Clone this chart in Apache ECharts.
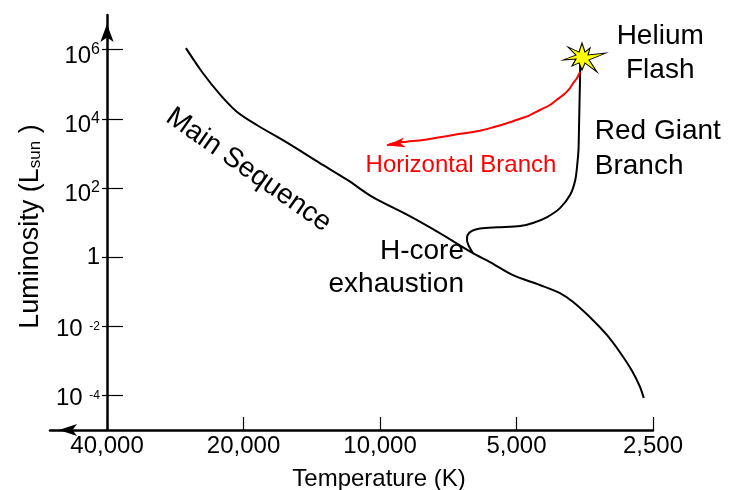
<!DOCTYPE html>
<html><head><meta charset="utf-8">
<script src="https://cdn.jsdelivr.net/npm/echarts@6/dist/echarts.min.js"></script>
<style>html,body{margin:0;padding:0;background:#fff}#c{width:731px;height:490px}</style>
</head><body><div id="c"></div>
<script>
const FONT = '"Liberation Sans", Arial, Helvetica, sans-serif';

// Main sequence (temperature K, luminosity L_sun)
const msTemp = [26800, 24600, 22500, 20700, 18700, 16000, 13600, 11800, 10400, 8700, 7400, 6240, 5720, 5090, 4440, 4010, 3750, 3390, 3160, 2960, 2780, 2670, 2620];
const msLum  = [1.1e6, 2.1e5, 4.9e4, 1.6e4, 6600, 2000, 530, 170, 55, 16.5, 5.0, 1.3, 0.72, 0.30, 0.156, 0.091, 0.050, 0.015, 0.0056, 0.0018, 5.1e-4, 1.75e-4, 8.4e-5];
// Red giant branch
const rgbTemp = [6240, 6430, 6410, 6270, 6020, 5520, 4910, 4600, 4280, 4010, 3810, 3710, 3670, 3650, 3640, 3630, 3620, 3620];
const rgbLum  = [1.31, 3.1, 4.35, 5.7, 6.7, 7.3, 7.9, 9.7, 14.4, 26, 62, 170, 530, 1250, 5800, 3.5e4, 2.25e5, 4.4e5];
// Horizontal branch
const hbTemp = [3620, 3680, 3750, 3840, 3940, 4080, 4220, 4440, 4670, 4950, 5250, 5630, 6020, 6890, 8030, 8730, 9350, 9650];
const hbLum  = [2.25e5, 1.48e5, 1.06e5, 6.8e4, 4.9e4, 3.5e4, 2.5e4, 1.79e4, 1.28e4, 9640, 7390, 5660, 4520, 3390, 2430, 2170, 1950, 1690];
// Helium flash
const flashTemp = [3540];
const flashLum  = [5.9e5];

// Axis ranges and ticks
const tempRange = [2500, 53450];
const lumRange  = [1e-5, 1e7];
const xTickValues = [40000, 20000, 10000, 5000, 2500];
const xTickLabels = ['40,000', '20,000', '10,000', '5,000', '2,500'];
const yTickValues = [1e-4, 1e-2, 1, 1e2, 1e4, 1e6];
const yTickBase   = ['10', '10', '1', '10', '10', '10'];
const yTickExp    = ['-4', '-2', '', '2', '4', '6'];
const xName = 'Temperature (K)';
const yNameMain = 'Luminosity (L';
const yNameSub = 'sun';

// Annotations
const annoText = ['Main Sequence', 'H-core\nexhaustion', 'Helium\nFlash', 'Red Giant\nBranch', 'Horizontal Branch'];
const annoTemp = [19500, 6530, 2410, 3360, 6630];
const annoLum  = [330, 0.483, 7.96e5, 1380, 460];

const lg = Math.log10;
const toXY = (ts, ls) => ts.map((t, i) => [lg(t), lg(ls[i])]);
const matchIdx = (arr, v) => arr.findIndex(t => Math.abs(lg(t) - v) < 1e-6);

const annoStyles = [
  { position: 'inside', rotate: -35, fontSize: 28, color: '#000000' },
  { position: 'left', distance: 0, fontSize: 28, lineHeight: 33, color: '#000000' },
  { position: 'inside', fontSize: 28, lineHeight: 34, color: '#000000' },
  { position: 'right', distance: 0, fontSize: 28, lineHeight: 35, color: '#000000' },
  { position: 'inside', fontSize: 24, color: '#ff0000' }
];

const hbData = toXY(hbTemp, hbLum).map((p, i, a) => i === a.length - 1
  ? { value: p, symbol: 'arrow', symbolSize: [7.5, 18], symbolRotate: 100 }
  : { value: p, symbol: 'none' });

const starPath = 'path://M0,-15 L3,-6 L8,-10 L6,-3 L24,-5 L7,2 L15,14 L3,5 L0,12 L-3,5 L-10,8 L-6,1 L-19,2 L-6,-3 L-14,-11 L-3,-6 Z';

const tickCustomY = yTickValues.map(v => lg(v));
const tickCustomX = xTickValues.map(v => lg(v));

const chart = echarts.init(document.getElementById('c'), null, { renderer: 'canvas' });
chart.setOption({
  animation: false,
  backgroundColor: '#ffffff',
  textStyle: { fontFamily: FONT, color: '#000000' },
  grid: { left: 50, right: 78, top: 15, bottom: 60, containLabel: false, outerBoundsMode: 'none' },
  xAxis: {
    type: 'value', inverse: true,
    min: lg(tempRange[0]), max: lg(tempRange[1]),
    splitLine: { show: false },
    axisLine: { show: true, onZero: false, lineStyle: { color: '#000', width: 2.5 }, symbol: ['arrow', 'none'], symbolSize: [9, 18], symbolOffset: [9, 0] },
    axisTick: { show: true, inside: true, length: 13, customValues: tickCustomX, lineStyle: { color: '#000', width: 1.2 } },
    axisLabel: {
      show: true, customValues: tickCustomX, margin: 4, color: '#000', fontSize: 24, fontFamily: FONT,
      formatter: v => { const i = matchIdx(xTickValues, v); return i < 0 ? '' : xTickLabels[i]; }
    },
    name: xName, nameLocation: 'middle', nameGap: 37,
    nameTextStyle: { color: '#000', fontSize: 24, fontFamily: FONT, padding: [0, 0, 0, 55] }
  },
  yAxis: [{
    type: 'value', position: 'left', offset: -57,
    min: lg(lumRange[0]), max: lg(lumRange[1]),
    splitLine: { show: false },
    axisLine: { show: true, onZero: false, lineStyle: { color: '#000', width: 2.5 }, symbol: ['none', 'arrow'], symbolSize: [10, 18], symbolOffset: [0, -9] },
    axisTick: { show: true, inside: true, length: 16, customValues: tickCustomY, lineStyle: { color: '#000', width: 1.2 } },
    axisLabel: {
      show: true, customValues: tickCustomY, margin: 7, color: '#000', fontFamily: FONT,
      formatter: v => {
        const i = matchIdx(yTickValues, v);
        if (i < 0) return '';
        const e = yTickExp[i];
        if (!e) return '{b|' + yTickBase[i] + '}';
        return e.charAt(0) === '-' ? '{b|' + yTickBase[i] + ' }{n|' + e + '}' : '{b|' + yTickBase[i] + '}{p|' + e + '}';
      },
      rich: {
        b: { fontSize: 24, lineHeight: 24, color: '#000', fontFamily: FONT, verticalAlign: 'bottom' },
        p: { fontSize: 16, lineHeight: 37, color: '#000', fontFamily: FONT, verticalAlign: 'middle' },
        n: { fontSize: 12, lineHeight: 30, color: '#000', fontFamily: FONT, verticalAlign: 'middle' }
      }
    },
    name: '{m|' + yNameMain + '}{s|' + yNameSub + '}{m| )}', nameLocation: 'middle', nameGap: 63,
    nameTextStyle: {
      color: '#000', padding: [0, 8, 0, 0],
      rich: {
        m: { fontSize: 27, lineHeight: 27, color: '#000', fontFamily: FONT, verticalAlign: 'top' },
        s: { fontSize: 17, lineHeight: 17, color: '#000', fontFamily: FONT, verticalAlign: 'bottom' }
      }
    }
  }, {
    type: 'value', position: 'left', offset: -57,
    min: lg(lumRange[0]), max: lg(lumRange[1]),
    splitLine: { show: false },
    axisLine: { show: false },
    axisTick: { show: true, inside: false, length: 5, customValues: tickCustomY, lineStyle: { color: '#000', width: 1.2 } },
    axisLabel: { show: false }
  }],
  series: [
    { name: 'Main Sequence', type: 'line', data: toXY(msTemp, msLum), showSymbol: false, smooth: 0.3,
      lineStyle: { color: '#000', width: 2 }, z: 2 },
    { name: 'Red Giant Branch', type: 'line', data: toXY(rgbTemp, rgbLum), showSymbol: false, smooth: 0.3,
      lineStyle: { color: '#000', width: 2 }, z: 2 },
    { name: 'Horizontal Branch', type: 'line', data: hbData, showSymbol: true, symbol: 'none', smooth: 0.3,
      lineStyle: { color: '#ff0000', width: 2 }, itemStyle: { color: '#ff0000', opacity: 1 }, z: 3 },
    { name: 'Helium Flash', type: 'scatter', data: toXY(flashTemp, flashLum), symbol: starPath, symbolSize: [43, 29],
      itemStyle: { color: '#ffff00', borderColor: '#000', borderWidth: 1, opacity: 1 }, z: 5 },
    { name: 'Annotations', type: 'scatter', clip: false, symbolSize: 0, silent: true, z: 6,
      itemStyle: { opacity: 1 },
      label: { show: true, color: '#000000', textBorderWidth: 0 },
      data: annoText.map((t, i) => ({ name: t, value: [lg(annoTemp[i]), lg(annoLum[i])],
        label: Object.assign({ show: true, formatter: '{b}', fontFamily: FONT, textBorderWidth: 0 }, annoStyles[i]) })) }
  ]
});
</script>
</body></html>
